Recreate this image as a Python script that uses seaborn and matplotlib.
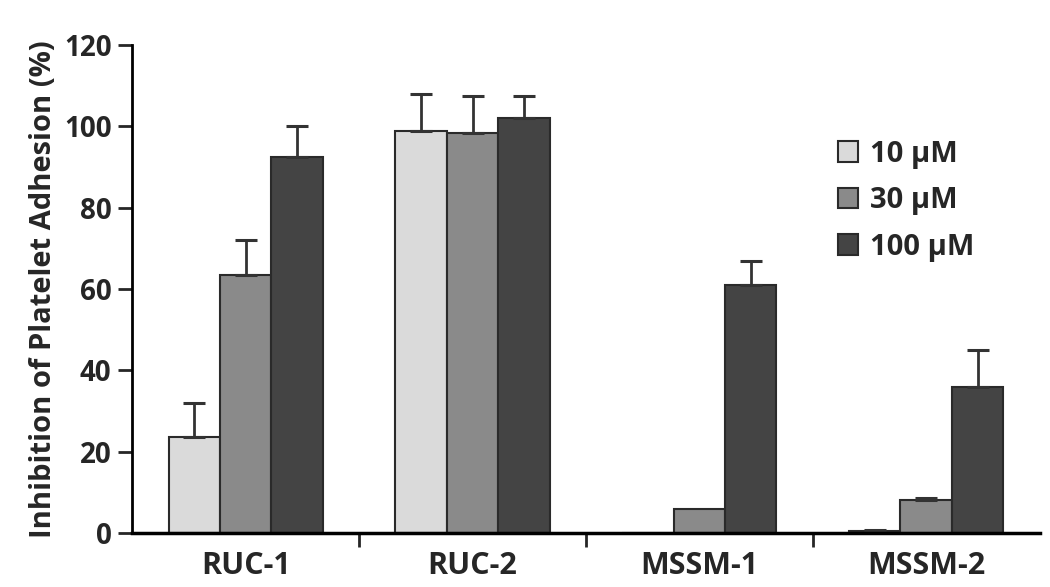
import pandas as pd
import matplotlib
matplotlib.use('Agg')
import matplotlib.pyplot as plt
import seaborn as sns

# Valores
compounds = ['RUC-1', 'RUC-2', 'MSSM-1', 'MSSM-2']
doses = ['10 µM', '30 µM', '100 µM']
vals_10 = [23.5, 99.0, 0.0, 0.5]
vals_30 = [63.5, 98.5, 6.0, 8.0]
vals_100 = [92.5, 102.0, 61.0, 36.0]
err_10 = [8.5, 9.0, 0.0, 0.3]
err_30 = [8.5, 9.0, 0.0, 0.7]
err_100 = [7.5, 5.5, 6.0, 9.0]
colors = ['#dadada', '#8a8a8a', '#444444']

rows = []
for dose, vals, errs in zip(doses, [vals_10, vals_30, vals_100], [err_10, err_30, err_100]):
    for comp, v, e in zip(compounds, vals, errs):
        rows.append({'compound': comp, 'dose': dose, 'value': v, 'err': e})
df = pd.DataFrame(rows)

sns.set_style('white')
plt.rcParams['font.family'] = ['Open Sans', 'DejaVu Sans']
plt.rcParams['font.weight'] = 'bold'

fig = plt.figure(figsize=(10.5, 5.87), dpi=100)
ax = fig.add_axes([0.126, 0.092, 0.864, 0.831])

sns.barplot(data=df, x='compound', y='value', hue='dose', order=compounds,
            hue_order=doses, palette=colors, width=0.68, errorbar=None,
            edgecolor='#2a2a2a', linewidth=1.5, saturation=1, ax=ax)

# barras de erro (apenas para cima)
for container, dose in zip(ax.containers, doses):
    sub = df[df['dose'] == dose].set_index('compound').loc[compounds]
    for bar, v, e in zip(container, sub['value'], sub['err']):
        if e <= 0:
            continue
        x = bar.get_x() + bar.get_width() / 2
        ax.errorbar(x, v, yerr=[[0], [e]], fmt='none', ecolor='#333333',
                    elinewidth=2, capsize=8, capthick=2.2, zorder=1)

ax.set_ylim(0, 120)
ax.set_xlim(-0.5, 3.5)
ax.set_yticks(range(0, 121, 20))
ax.set_xlabel('')
ax.set_ylabel('Inhibition of Platelet Adhesion (%)', fontsize=21, fontweight='bold', labelpad=4)
ax.tick_params(axis='y', labelsize=20, direction='out', length=10, width=2, left=True, pad=5)
ax.tick_params(axis='x', which='major', labelsize=22, length=0, pad=13)
ax.set_xticks([0.5, 1.5, 2.5], minor=True)
ax.tick_params(axis='x', which='minor', direction='out', length=10, width=2, bottom=True)
for lbl in ax.get_xticklabels() + ax.get_yticklabels():
    lbl.set_fontweight('bold')

sns.despine(ax=ax)
ax.spines['left'].set_linewidth(2)
ax.spines['bottom'].set_linewidth(2.5)
ax.spines['left'].set_color('black')
ax.spines['bottom'].set_color('black')

leg = ax.legend(loc='upper left', bbox_to_anchor=(0.765, 0.83), frameon=False,
                fontsize=21, handlelength=0.7, handleheight=0.7, labelspacing=0.6,
                handletextpad=0.4, borderaxespad=0)
for t in leg.get_texts():
    t.set_fontweight('bold')

fig.savefig('out.png', dpi=100)
